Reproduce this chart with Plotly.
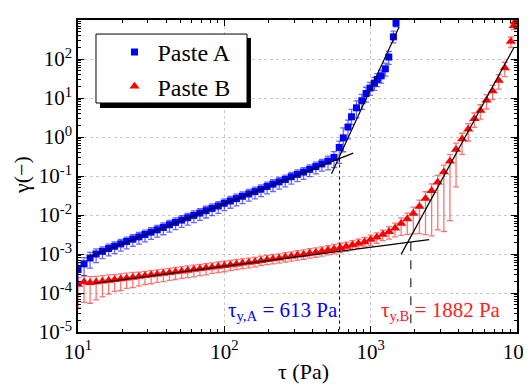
import plotly.graph_objects as go

# ---------------- data ----------------
tau_A = [10, 11.0, 12.1, 13.3, 14.7, 16.2, 17.8, 19.6, 21.5, 23.7, 26.1, 28.7, 31.6, 34.8, 38.3, 42.2,
         46.4, 51.1, 56.2, 61.9, 68.1, 75.0, 82.5, 90.9, 100, 110, 121, 133, 147, 162, 178, 196,
         215, 237, 261, 287, 316, 348, 383, 422, 464, 511, 562,
         610, 650, 700, 740, 800, 870, 930, 990, 1060, 1110, 1180, 1260, 1330, 1430, 1490]
gamma_A = [4.0e-4, 5.6e-4, 7.9e-4, 1.00e-3, 1.17e-3, 1.38e-3, 1.58e-3, 1.82e-3, 2.09e-3, 2.40e-3,
           2.75e-3, 3.16e-3, 3.63e-3, 4.17e-3, 4.79e-3, 5.62e-3, 6.46e-3, 7.41e-3, 8.51e-3, 9.77e-3,
           1.12e-2, 1.29e-2, 1.48e-2, 1.70e-2, 2.00e-2, 2.29e-2, 2.63e-2, 3.02e-2, 3.47e-2, 3.98e-2,
           4.57e-2, 5.37e-2, 6.17e-2, 7.08e-2, 8.13e-2, 9.55e-2, 0.110, 0.126, 0.148, 0.174, 0.204,
           0.240, 0.30,
           0.54, 0.95, 1.8, 3.3, 5.6, 8.5, 13, 18, 24, 30, 37, 56, 112, 370, 830]
relerr_plus_A = [0.5, 0.45, 0.4, 0.35, 0.3, 0.3, 0.3, 0.3, 0.3, 0.3, 0.3, 0.3, 0.3, 0.3, 0.3, 0.3,
                 0.3, 0.3, 0.3, 0.3, 0.3, 0.3, 0.3, 0.3, 0.3, 0.3, 0.3, 0.3, 0.3, 0.3, 0.3, 0.3,
                 0.3, 0.3, 0.3, 0.3, 0.3, 0.3, 0.3, 0.3, 0.3, 0.35, 0.4,
                 0.45, 0.8, 0.5, 0.55, 0.5, 0.45, 0.45, 0.4, 0.4, 0.4, 0.4, 0.4, 0.4, 0.4, 0.3]
relerr_minus_A = [0.6, 0.5, 0.45, 0.4, 0.35, 0.35, 0.35, 0.35, 0.35, 0.35, 0.35, 0.35, 0.35, 0.35,
                  0.35, 0.35, 0.35, 0.35, 0.35, 0.35, 0.35, 0.35, 0.35, 0.35, 0.35, 0.35, 0.35, 0.35,
                  0.35, 0.35, 0.35, 0.35, 0.35, 0.35, 0.35, 0.35, 0.35, 0.35, 0.35, 0.35, 0.35, 0.4, 0.45,
                  0.61, 0.56, 0.5, 0.36, 0.45, 0.4, 0.4, 0.35, 0.35, 0.35, 0.35, 0.35, 0.35, 0.3, 0.2]

tau_B = [10, 11.0, 12.1, 13.3, 14.7, 16.2, 17.8, 19.6, 21.5, 23.7, 26.1, 28.7, 31.6, 34.8, 38.3, 42.2,
         46.4, 51.1, 56.2, 61.9, 68.1, 75.0, 82.5, 90.9, 100, 110, 121, 133, 147, 162, 178, 196,
         215, 237, 261, 287, 316, 348, 383, 422, 464, 511, 562, 619, 681, 750, 825, 909,
         1000, 1101, 1212, 1334, 1468, 1616, 1778, 1957, 2154, 2371, 2610, 2873, 3162, 3481, 3831,
         4217, 4642, 5109, 5623, 6190, 6813, 7499, 8254, 9085, 9500, 9700]
gamma_B = [1.66e-4, 1.91e-4, 1.82e-4, 1.91e-4, 2.00e-4, 2.09e-4, 2.19e-4, 2.29e-4, 2.40e-4, 2.51e-4,
           2.63e-4, 2.75e-4, 2.88e-4, 3.02e-4, 3.16e-4, 3.31e-4, 3.47e-4, 3.63e-4, 3.80e-4, 3.98e-4,
           4.17e-4, 4.37e-4, 4.57e-4, 4.79e-4, 5.01e-4, 5.25e-4, 5.50e-4, 5.75e-4, 6.03e-4, 6.31e-4,
           6.76e-4, 7.08e-4, 7.41e-4, 7.76e-4, 8.32e-4, 8.71e-4, 9.33e-4, 9.77e-4, 1.05e-3, 1.10e-3,
           1.17e-3, 1.26e-3, 1.35e-3, 1.45e-3, 1.55e-3, 1.70e-3, 1.86e-3, 2.04e-3,
           2.34e-3, 2.69e-3, 3.16e-3, 3.72e-3, 4.57e-3, 6.03e-3, 7.94e-3, 1.10e-2, 1.66e-2, 2.63e-2,
           4.17e-2, 6.92e-2, 0.126, 0.240, 0.479, 0.891, 1.58, 2.95, 4.79, 8.71, 15.1, 28.2, 58.9,
           282, 708, 891]
relerr_plus_B = [0.5, 0.45, 0.45, 0.4, 0.4, 0.4, 0.35, 0.35, 0.35, 0.35, 0.3, 0.3, 0.3, 0.3, 0.3, 0.3,
                 0.3, 0.3, 0.3, 0.3, 0.3, 0.3, 0.3, 0.3, 0.3, 0.3, 0.3, 0.3, 0.3, 0.3, 0.3, 0.3,
                 0.3, 0.3, 0.3, 0.3, 0.3, 0.3, 0.3, 0.3, 0.3, 0.3, 0.3, 0.3, 0.3, 0.3, 0.3, 0.3,
                 0.3, 0.3, 0.3, 0.35, 0.35, 0.4, 0.4, 0.45, 0.45, 0.5, 0.5, 0.5, 0.5, 0.48, 0.45,
                 0.4, 0.4, 0.4, 0.4, 0.4, 0.4, 0.4, 0.4, 0.3, 0.2, 0.15]
relerr_minus_B = [0.75, 0.7, 0.7, 0.65, 0.6, 0.55, 0.5, 0.5, 0.45, 0.45, 0.42, 0.4, 0.4, 0.38, 0.38, 0.36,
                  0.36, 0.35, 0.35, 0.35, 0.33, 0.33, 0.3, 0.3, 0.3, 0.28, 0.28, 0.27, 0.27, 0.26, 0.25, 0.25,
                  0.25, 0.25, 0.25, 0.25, 0.25, 0.25, 0.25, 0.25, 0.25, 0.25, 0.25, 0.25, 0.25, 0.25, 0.25, 0.25,
                  0.3, 0.3, 0.3, 0.35, 0.4, 0.5, 0.6, 0.7, 0.8, 0.88, 0.93, 0.94, 0.97, 0.97, 0.89,
                  0.6, 0.5, 0.4, 0.4, 0.4, 0.4, 0.4, 0.4, 0.3, 0.2, 0.15]

# fitted power-law segments (end points) and yield stresses
fitA_low_tau, fitA_low_gamma = [11.5, 760], [8.1e-4, 0.386]
fitA_high_tau, fitA_high_gamma = [540, 1565], [0.115, 660]
fitB_low_tau, fitB_low_gamma = [13, 2510], [1.78e-4, 2.34e-3]
fitB_high_tau, fitB_high_gamma = [1615, 9550], [9.8e-4, 200]
tau_yA, gamma_yA = 613, 0.28
tau_yB, gamma_yB = 1882, 2.0e-3

x_ticks = [10, 100, 1000, 10000]
x_ticktext = ["10<sup>1</sup>", "10<sup>2</sup>", "10<sup>3</sup>", "10<sup>4</sup>"]
y_ticks = [1e-5, 1e-4, 1e-3, 1e-2, 1e-1, 1, 10, 100, 1000]
y_ticktext = ["10<sup>-5</sup>", "10<sup>-4</sup>", "10<sup>-3</sup>", "10<sup>-2</sup>", "10<sup>-1</sup>",
              "10<sup>0</sup>", "10<sup>1</sup>", "10<sup>2</sup>", "10<sup>3</sup>"]

FONT = "Liberation Serif"

fig = go.Figure()

fig.add_trace(go.Scatter(
    x=tau_B, y=gamma_B, mode="markers", name="Paste B", legendgroup="B", legendrank=2,
    marker=dict(symbol="triangle-up", size=9, color="#ff0000", line=dict(width=0)),
    error_y=dict(type="data", symmetric=False,
                 array=[g * r for g, r in zip(gamma_B, relerr_plus_B)],
                 arrayminus=[g * r for g, r in zip(gamma_B, relerr_minus_B)],
                 color="rgba(255,0,0,0.55)", thickness=1.3, width=3),
))
fig.add_trace(go.Scatter(
    x=tau_A, y=gamma_A, mode="markers", name="Paste A", legendgroup="A", legendrank=1,
    marker=dict(symbol="square", size=7, color="#0000ff", line=dict(width=0)),
    error_y=dict(type="data", symmetric=False,
                 array=[g * r for g, r in zip(gamma_A, relerr_plus_A)],
                 arrayminus=[g * r for g, r in zip(gamma_A, relerr_minus_A)],
                 color="rgba(0,0,255,0.6)", thickness=1.3, width=3),
))

for tx, gy in [(fitA_low_tau, fitA_low_gamma), (fitA_high_tau, fitA_high_gamma),
               (fitB_low_tau, fitB_low_gamma), (fitB_high_tau, fitB_high_gamma)]:
    fig.add_trace(go.Scatter(x=tx, y=gy, mode="lines", showlegend=False,
                             line=dict(color="black", width=1.2)))

fig.add_trace(go.Scatter(x=[tau_yA, tau_yA], y=[gamma_yA, 1e-5], mode="lines", showlegend=False,
                         line=dict(color="black", width=1, dash="dot")))
fig.add_trace(go.Scatter(x=[tau_yB, tau_yB], y=[gamma_yB, 1e-5], mode="lines", showlegend=False,
                         line=dict(color="black", width=1, dash="dash")))

# legend box with drop shadow
fig.add_shape(type="rect", xref="paper", yref="paper", x0=0.0501, x1=0.394, y0=0.718, y1=0.942,
              fillcolor="black", line=dict(width=0), layer="above")
fig.add_shape(type="rect", xref="paper", yref="paper", x0=0.041, x1=0.385, y0=0.734, y1=0.955,
              fillcolor="white", line=dict(color="black", width=1), layer="above")

fig.add_annotation(text="τ<sub>y,A</sub> = 613 Pa", xref="paper", yref="paper", x=0.337, y=0.02,
                   xanchor="left", yanchor="bottom", showarrow=False,
                   font=dict(family=FONT, size=21, color="#0000ff"))
fig.add_annotation(text="τ<sub>y,B</sub> = 1882 Pa", xref="paper", yref="paper", x=0.686, y=0.02,
                   xanchor="left", yanchor="bottom", showarrow=False,
                   font=dict(family=FONT, size=21, color="#ff2020"))

# axis titles
fig.add_annotation(text="τ (Pa)", xref="paper", yref="paper", x=0.513, y=-0.128,
                   xanchor="center", yanchor="middle", showarrow=False,
                   font=dict(family=FONT, size=22, color="black"))
fig.add_annotation(text="γ(−)", xref="paper", yref="paper", x=-0.13, y=0.503, textangle=-90,
                   xanchor="center", yanchor="middle", showarrow=False,
                   font=dict(family=FONT, size=22, color="black"))

axis_common = dict(
    type="log", showline=True, linecolor="black", linewidth=1.6, mirror="allticks",
    ticks="inside", ticklen=6, tickcolor="black", tickwidth=1, automargin=False,
    showgrid=True, gridcolor="#c8c8c8", griddash="dot", gridwidth=1, zeroline=False,
    minor=dict(ticks="inside", ticklen=3, tickcolor="black", dtick="D1", showgrid=False),
    tickfont=dict(family=FONT, size=21, color="black"),
)

fig.update_xaxes(range=[1, 4], tickvals=x_ticks, ticktext=x_ticktext, **axis_common)
fig.update_yaxes(range=[-5, 3], tickvals=y_ticks, ticktext=y_ticktext, **axis_common)

# the page adds an 8 px body margin, so the figure's margins are offset by 8 px
fig.update_layout(
    width=531, height=387,
    margin=dict(l=70, r=22, t=12, b=63),
    paper_bgcolor="white", plot_bgcolor="white",
    font=dict(family=FONT, size=20, color="black"),
    legend=dict(x=0.0763, y=0.968, xanchor="left", yanchor="top", bgcolor="rgba(0,0,0,0)",
                borderwidth=0, font=dict(family=FONT, size=24, color="black"),
                tracegroupgap=0, traceorder="normal", itemwidth=36),
)

fig.write_html("out.html")
